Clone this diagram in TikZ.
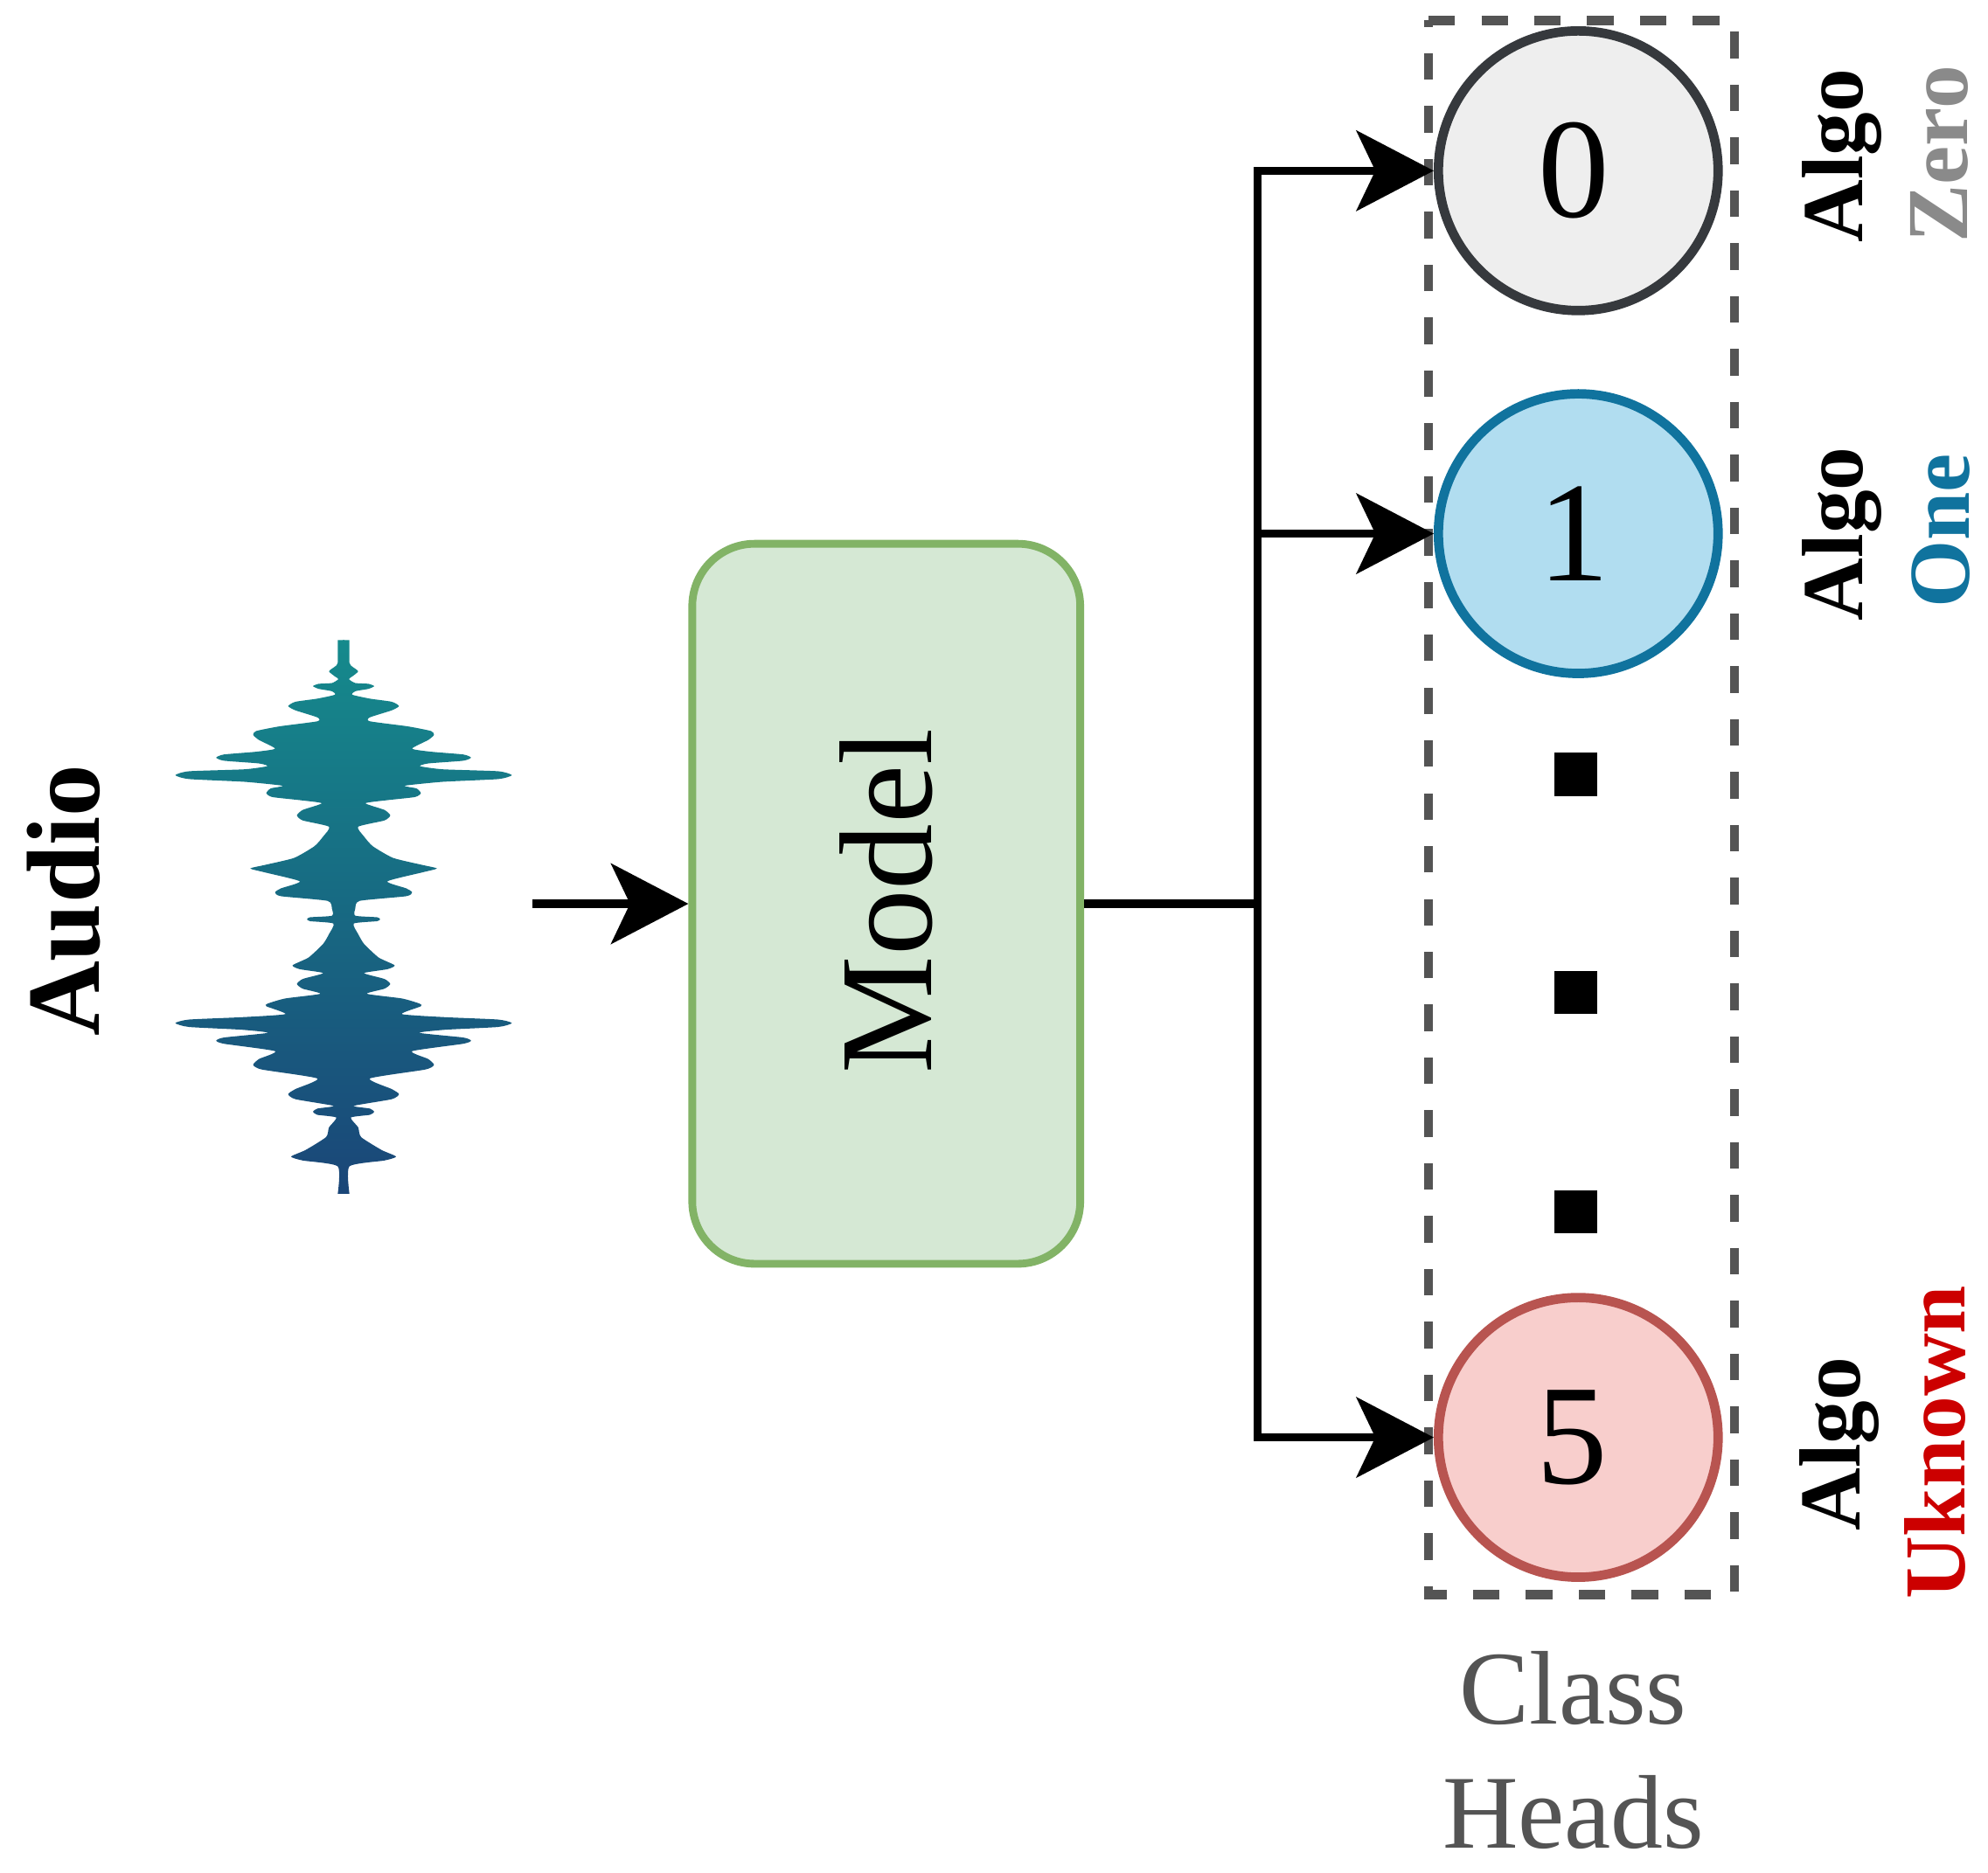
\documentclass[tikz,border=0pt]{standalone}
\usepackage{fontspec}
\usepackage{xcolor}
\usepackage{tikz}
\usetikzlibrary{arrows.meta}
\setmainfont{Liberation Serif}
\definecolor{wavetop}{HTML}{158A8C}
\definecolor{wavebot}{HTML}{1A4678}
\definecolor{modelline}{HTML}{82B366}
\definecolor{modelfill}{HTML}{D5E8D4}
\definecolor{zeroline}{HTML}{36393D}
\definecolor{zerofill}{HTML}{EEEEEE}
\definecolor{zerogray}{HTML}{8A8A8A}
\definecolor{oneblue}{HTML}{10739E}
\definecolor{onefill}{HTML}{B1DDF0}
\definecolor{fiveline}{HTML}{B85450}
\definecolor{fivefill}{HTML}{F8CECC}
\definecolor{fivered}{HTML}{CC0000}
\definecolor{boxgray}{HTML}{545454}
\newcommand{\halfwave}{\shade[top color=wavetop,bottom color=wavebot] (-3,72) -- plot[smooth,tension=.35] coordinates {
(20,72) (20,130) (30,140) (50,152) (30,165) (18,172) (40,182) (85,184) (105,190) (85,197) (40,203) (30,212)
(90,222) (165,230) (190,241) (165,252) (90,270) (90,280) (220,293) (300,305) (310,315) (290,328) (235,350)
(300,358) (410,365) (437,373) (410,381) (290,388) (262,395) (340,403) (530,408) (577,418) (530,428) (340,435) (210,445)
(250,452) (265,464) (245,474) (150,482) (75,490) (140,507) (160,521) (140,534) (50,550)
(70,575) (100,600) (170,630) (270,648) (320,657) (270,667) (150,690) (215,708) (235,718) (215,728) (55,740)
(40,760) (40,778) (115,782) (125,787) (115,792) (35,798) (50,825) (70,850) (120,885) (175,905) (150,915) (70,925)
(140,940) (160,953) (140,965) (80,978) (200,990) (260,1003) (265,1010) (200,1030)
(350,1038) (530,1044) (577,1053) (530,1063) (350,1070) (260,1078) (410,1090) (437,1098) (410,1106) (235,1125)
(290,1145) (310,1160) (280,1172) (90,1195) (165,1222) (190,1235) (165,1248) (35,1265)
(90,1272) (105,1280) (90,1288) (25,1295) (50,1320) (60,1345) (130,1378) (180,1395) (140,1405) (20,1420) (20,1490)
} -- (-3,1490) -- cycle;}

\begin{document}
\begin{tikzpicture}[x=.03cm,y=-.03cm,
  >={Stealth[length=52pt,width=54pt,inset=12.7pt]},
  flow/.style={line width=5.5pt,->},
  headc/.style={circle,draw,line width=6.3pt,minimum size=6.618cm,inner sep=0pt,font=\fontsize{96}{96}\selectfont},
  tag/.style={rotate=90,anchor=base west,inner sep=0pt,font=\fontsize{58.5}{58.5}\selectfont\bfseries},
  dot/.style={rectangle,fill=black,minimum size=29pt,inner sep=0pt}]
\useasboundingbox (0,0) rectangle (1568,1477);
%waveform, right half and its mirror
\begin{scope}[shift={(271,482.8)},xscale=.23,yscale=.308]
\halfwave
\begin{scope}[xscale=-1]
\halfwave
\end{scope}
\end{scope}
\path (78,818) node(audio) [tag,font=\fontsize{70}{70}\selectfont\bfseries] {Audio}
(420,713) coordinate(wavein)
(699,713) node(model) [rectangle,rotate=90,draw=modelline,fill=modelfill,line width=5.2pt,rounded corners=42pt,minimum width=17.04cm,minimum height=9.18cm,font=\fontsize{89}{89}\selectfont] {\kern4pt Model}
(992,713) coordinate(trunk)
(1244.8,134.7) node(zero) [headc,draw=zeroline,fill=zerofill] {\kern-6pt 0}
(1244.8,421) node(one) [headc,draw=oneblue,fill=onefill] {\kern-6pt 1}
(1244.8,1134) node(five) [headc,draw=fiveline,fill=fivefill] {\kern-8pt 5}
(1243,611) node(dota) [dot] {}
(1243,783) node(dotb) [dot] {}
(1243,956) node(dotc) [dot] {}
(1469,191.7) node(algozero) [tag] {Algo}
(1551.6,191.7) node(tagzero) [tag,text=zerogray] {Zero}
(1469,489.9) node(algoone) [tag] {Algo}
(1553,480) node(tagone) [tag,text=oneblue] {One}
(1467,1208) node(algofive) [tag] {Algo}
(1549.6,1262) node(tagfive) [tag,text=fivered] {Uknown}
(1241,1381) node(heads) [align=center,text=boxgray,inner sep=0pt,font=\fontsize{70.5}{83.6}\selectfont] {Class\\Heads};
\draw[boxgray,line width=6pt,dash pattern=on 17.9pt off 17.7pt] (1126.7,16.2) -- (1368,16.2) -- (1368,1258) -- (1126.7,1258) -- cycle;
\draw[flow] (wavein) -- (model.north);
\draw[line width=5.5pt] (model.south) -- (trunk);
\draw[flow] (trunk) |- (zero.west);
\draw[flow] (trunk) |- (one.west);
\draw[flow] (trunk) |- (five.west);
\end{tikzpicture}
\end{document}
